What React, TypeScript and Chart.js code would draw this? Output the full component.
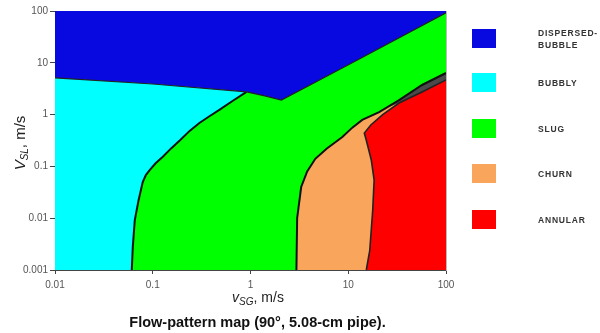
import React, { useEffect, useRef } from "react";
import { Chart, registerables } from "chart.js";

Chart.register(...registerables);

// ---- data (log-log, vSG m/s on x, vSL m/s on y) ----
const xTicks = [0.01, 0.1, 1, 10, 100];
const yTicks = [0.001, 0.01, 0.1, 1, 10, 100];

const plotCorners: number[][] = [[0.01, 0.001], [100, 0.001], [100, 100], [0.01, 100]];

// dispersed-bubble lower boundary
const dispersedBoundary: number[][] = [
  [0.01, 5.1], [0.1, 3.9], [0.91, 2.75], [1.4, 2.3], [2.07, 1.91], [12, 11], [100, 92],
];

// bubbly / slug transition (bottom to top)
const bubblySlugBoundary: number[][] = [
  [0.061, 0.001], [0.0625, 0.0028], [0.0655, 0.0092], [0.0715, 0.022], [0.079, 0.05],
  [0.085, 0.068], [0.093, 0.085], [0.107, 0.115], [0.126, 0.152], [0.155, 0.225],
  [0.19, 0.32], [0.24, 0.49], [0.3, 0.69], [0.38, 0.93], [0.48, 1.23], [0.66, 1.85], [0.91, 2.75],
];

// slug / churn transition (bottom to top right)
const slugChurnBoundary: number[][] = [
  [2.95, 0.001], [3.0, 0.01], [3.3, 0.04], [3.8, 0.08], [4.6, 0.14], [6.0, 0.22],
  [8.7, 0.37], [11, 0.56], [13.9, 0.79], [20.7, 1.12], [33.1, 1.91], [56.9, 3.73], [100, 6.35],
];

// churn / annular transition (bottom to top right)
const annularBoundary: number[][] = [
  [15.3, 0.001], [16.6, 0.0024], [17.8, 0.0144], [18.4, 0.0545], [17.2, 0.133],
  [15.3, 0.32], [14.6, 0.44], [17.0, 0.63], [22.5, 1.0], [33.1, 1.67], [56.9, 2.73], [100, 4.66],
];

// narrow dark band between the slug and annular boundaries
const transitionBand: number[][] = [
  [24, 1.32], [33.1, 1.91], [56.9, 3.73], [100, 6.35], [100, 4.66], [56.9, 2.73], [33.1, 1.67],
];

const patternNames = ["DISPERSED-\nBUBBLE", "BUBBLY", "SLUG", "CHURN", "ANNULAR"];
const patternColors = ["#0808e0", "#00ffff", "#00ff00", "#f9a65c", "#ff0000"];

const captionText = "Flow-pattern map (90°, 5.08-cm pipe).";

// ---- helpers ----
const toPts = (arr: number[][]) => arr.map(([x, y]) => ({ x, y }));

const polygon = (pts: number[][], color: string) => ({
  data: toPts(pts),
  showLine: true,
  fill: "shape",
  backgroundColor: color,
  borderColor: "rgba(0,0,0,0)",
  borderWidth: 0,
  pointRadius: 0,
  tension: 0,
});

const boundaryLine = (pts: number[][], width: number, color = "#111") => ({
  data: toPts(pts),
  showLine: true,
  fill: false,
  borderColor: color,
  borderWidth: width,
  pointRadius: 0,
  tension: 0,
});

const fmt = (v: number) => String(v);

const titlePlugin = {
  id: "axisTitles",
  afterDraw(chart: any) {
    const ctx = chart.ctx as CanvasRenderingContext2D;
    const drawParts = (parts: { t: string; font: string; dy: number }[], cx: number, cy: number, rot: number) => {
      ctx.save();
      ctx.translate(cx, cy);
      ctx.rotate(rot);
      ctx.fillStyle = "#222";
      ctx.textBaseline = "alphabetic";
      ctx.textAlign = "left";
      let total = 0;
      for (const p of parts) {
        ctx.font = p.font;
        total += ctx.measureText(p.t).width;
      }
      let x = -total / 2;
      for (const p of parts) {
        ctx.font = p.font;
        ctx.fillText(p.t, x, p.dy);
        x += ctx.measureText(p.t).width;
      }
      ctx.restore();
    };
    const fam = "'Liberation Sans', Arial, sans-serif";
    drawParts(
      [
        { t: "V", font: `italic 15px ${fam}`, dy: 0 },
        { t: "SL", font: `italic 10px ${fam}`, dy: 3 },
        { t: ", m/s", font: `15px ${fam}`, dy: 0 },
      ],
      25, 143, -Math.PI / 2
    );
    drawParts(
      [
        { t: "v", font: `italic 14px ${fam}`, dy: 0 },
        { t: "SG", font: `italic 10px ${fam}`, dy: 3 },
        { t: ", m/s", font: `14px ${fam}`, dy: 0 },
      ],
      258, 302, 0
    );
  },
};

export default function App() {
  const ref = useRef<HTMLCanvasElement | null>(null);

  useEffect(() => {
    if (!ref.current) return;
    const tickFont = { family: "'Liberation Sans', Arial, sans-serif", size: 10 };
    const chart = new Chart(ref.current, {
      type: "scatter",
      data: {
        datasets: [
          boundaryLine(dispersedBoundary, 1.2, "#222") as any,
          boundaryLine(bubblySlugBoundary, 2) as any,
          boundaryLine(slugChurnBoundary, 2) as any,
          boundaryLine(annularBoundary, 1.6, "#222") as any,
          polygon([...annularBoundary, [100, 0.001]], patternColors[4]) as any,
          polygon(transitionBand, "#4a4a4a") as any,
          polygon([...slugChurnBoundary, [100, 0.001]], patternColors[3]) as any,
          polygon(
            [[0.01, 0.001], ...dispersedBoundary.slice(0, 3), ...[...bubblySlugBoundary].reverse()],
            patternColors[1]
          ) as any,
          polygon([[0.01, 100], ...dispersedBoundary, [100, 100]], patternColors[0]) as any,
          polygon(plotCorners, patternColors[2]) as any,
        ],
      },
      options: {
        responsive: false,
        animation: false,
        events: [],
        layout: { padding: { left: 0, top: 11, right: 154, bottom: 33 } },
        plugins: { legend: { display: false }, tooltip: { enabled: false } },
        scales: {
          x: {
            type: "logarithmic",
            position: "bottom",
            min: 0.01,
            max: 100,
            afterBuildTicks: (s: any) => {
              s.ticks = xTicks.map((v) => ({ value: v }));
            },
            afterFit: (s: any) => {
              s.height = 30;
            },
            ticks: {
              callback: (v: any) => fmt(Number(v)),
              font: tickFont,
              color: "#555",
              padding: 5,
              maxRotation: 0,
              autoSkip: false,
            },
            grid: { drawOnChartArea: false, tickLength: 4, color: "#444" },
            border: { color: "#444", width: 1 },
          },
          y: {
            type: "logarithmic",
            position: "left",
            min: 0.001,
            max: 100,
            afterBuildTicks: (s: any) => {
              s.ticks = yTicks.map((v) => ({ value: v }));
            },
            afterFit: (s: any) => {
              s.width = 55;
            },
            ticks: {
              callback: (v: any) => fmt(Number(v)),
              font: tickFont,
              color: "#555",
              padding: 2,
              autoSkip: false,
            },
            grid: { drawOnChartArea: false, tickLength: 5, color: "#444" },
            border: { color: "#444", width: 1 },
          },
          xTop: {
            type: "linear",
            axis: "x",
            position: "top",
            min: 0,
            max: 1,
            ticks: { display: false },
            grid: { display: false, drawTicks: false },
            border: { display: true, color: "#333", width: 1 },
            afterFit: (s: any) => {
              s.height = 0;
            },
          },
          yRight: {
            type: "linear",
            axis: "y",
            position: "right",
            min: 0,
            max: 1,
            ticks: { display: false },
            grid: { display: false, drawTicks: false },
            border: { display: true, color: "#bbb", width: 1 },
            afterFit: (s: any) => {
              s.width = 0;
            },
          },
        },
      } as any,
      plugins: [titlePlugin],
    });
    return () => chart.destroy();
  }, []);

  const legendTop = [29, 73, 119, 164, 210];

  return (
    <div
      style={{
        position: "fixed",
        left: 0,
        top: 0,
        width: 600,
        height: 333,
        background: "#fff",
        fontFamily: "'Liberation Sans', Arial, sans-serif",
      }}
    >
      <canvas ref={ref} width={600} height={333} style={{ position: "absolute", left: 0, top: 0 }} />
      {patternNames.map((name, i) => (
        <React.Fragment key={name}>
          <div
            style={{
              position: "absolute",
              left: 472,
              top: legendTop[i],
              width: 24,
              height: 19,
              background: patternColors[i],
            }}
          />
          <div
            style={{
              position: "absolute",
              left: 538,
              top: legendTop[i] + 9.5,
              transform: "translateY(-50%)",
              fontSize: 8.5,
              fontWeight: "bold",
              letterSpacing: "0.8px",
              color: "#333",
              lineHeight: "12px",
              whiteSpace: "pre",
            }}
          >
            {name}
          </div>
        </React.Fragment>
      ))}
      <div
        style={{
          position: "absolute",
          left: 0,
          width: 515,
          top: 313,
          textAlign: "center",
          fontSize: 14.5,
          fontWeight: "bold",
          color: "#111",
          whiteSpace: "nowrap",
          lineHeight: "18px",
        }}
      >
        {captionText}
      </div>
    </div>
  );
}
